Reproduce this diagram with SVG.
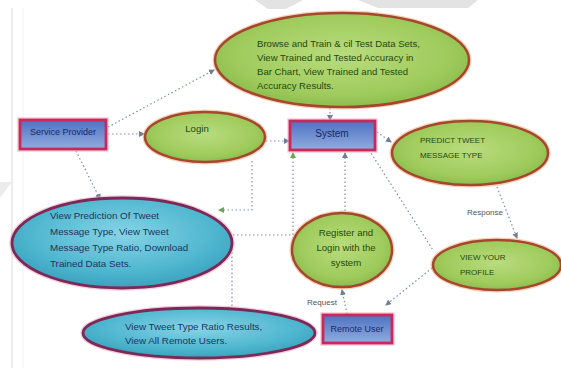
<svg xmlns="http://www.w3.org/2000/svg" width="561" height="369" viewBox="0 0 561 369">
<defs>
<radialGradient id="gGreen" cx="50%" cy="45%" r="60%">
<stop offset="0" stop-color="#b9dc7e"/><stop offset="0.7" stop-color="#9fcb5c"/><stop offset="1" stop-color="#86b84a"/>
</radialGradient>
<radialGradient id="gBlue" cx="50%" cy="40%" r="60%">
<stop offset="0" stop-color="#86d4e6"/><stop offset="0.7" stop-color="#4fb6cf"/><stop offset="1" stop-color="#3ba2bf"/>
</radialGradient>
<linearGradient id="gRect" x1="0" y1="0" x2="0" y2="1">
<stop offset="0" stop-color="#4d72c2"/><stop offset="1" stop-color="#93acdf"/>
</linearGradient>
<marker id="arr" viewBox="0 0 6 6" refX="5" refY="3" markerWidth="5" markerHeight="5" orient="auto">
<path d="M0,0 L6,3 L0,6 z" fill="#6f7f98"/>
</marker>
<marker id="arrG" viewBox="0 0 6 6" refX="5" refY="3" markerWidth="5" markerHeight="5" orient="auto">
<path d="M0,0 L6,3 L0,6 z" fill="#6aa84f"/>
</marker>
</defs>
<style>
.gE{fill:url(#gGreen);stroke:#a5472c;stroke-width:2.5}
.gGlow{fill:none;stroke:#f2b08a;stroke-width:5;opacity:0.6}
.bE{fill:url(#gBlue);stroke:#7b2a55;stroke-width:2.8}
.bGlow{fill:none;stroke:#f0a8c8;stroke-width:5.5;opacity:0.6}
.rc{fill:url(#gRect);stroke:#c8285a;stroke-width:2.8}
.rGlow{fill:none;stroke:#f6a8c0;stroke-width:5.5;opacity:0.6}
.tg{font-family:"Liberation Sans",Arial,sans-serif;font-size:9.6px;fill:#244a0c}
.tb{font-family:"Liberation Sans",Arial,sans-serif;font-size:9.8px;fill:#1a3560}
.tr{font-family:"Liberation Sans",Arial,sans-serif;font-size:9px;fill:#1a2868;text-anchor:middle}
.lbl{font-family:"Liberation Sans",Arial,sans-serif;font-size:8px;fill:#555;text-anchor:middle}
.c{fill:none;stroke:#7f8fa8;stroke-width:1.2;stroke-dasharray:1.5 2.5}
</style>
<rect width="561" height="369" fill="#ffffff"/>
<g id="background">
<polygon points="255,0 303,0 286,9 268,9" fill="#e3e3e3"/>
<polygon points="358,0 478,0 468,8 378,8" fill="#e3e3e3"/>
<polygon points="0,182 12,182 0,198" fill="#ececec"/>
<line x1="12" y1="8" x2="12" y2="368" stroke="#e6e6e6" stroke-width="1.5"/>
<line x1="23" y1="8" x2="23" y2="368" stroke="#f2f2f2" stroke-width="1"/>
</g>
<g id="connectors">
<path class="c" d="M108,127 L214,70" marker-end="url(#arr)"/>
<path class="c" d="M108,134 L144,134" marker-end="url(#arr)"/>
<path class="c" d="M266,141 L289,141" marker-end="url(#arr)"/>
<path class="c" d="M330,108 L330,120" marker-end="url(#arr)"/>
<path class="c" d="M377,132 L391,142" marker-end="url(#arr)"/>
<path class="c" d="M76,151 L100,199" marker-end="url(#arr)"/>
<path class="c" d="M252,161 L252,210 L219,210" marker-end="url(#arrG)"/>
<path class="c" d="M232,310 L232,235 L293,235 L293,153" marker-end="url(#arrG)"/>
<path class="c" d="M345,211 L345,153" marker-end="url(#arr)"/>
<path class="c" d="M369,150 L433,250"/>
<path class="c" d="M497,187 L517,238" marker-end="url(#arr)"/>
<path class="c" d="M432,268 L386,305" marker-end="url(#arr)"/>
<path class="c" d="M347,314 L342,290" marker-end="url(#arr)"/>
<text class="lbl" x="485" y="215">Response</text>
<text class="lbl" x="322" y="305">Request</text>
</g>
<g id="top-ellipse">
<ellipse class="gGlow" cx="342" cy="60" rx="127" ry="47"/>
<ellipse class="gE" cx="342" cy="60" rx="127" ry="47"/>
<text class="tg" x="257" y="47">Browse and Train &amp; cil Test Data Sets,</text>
<text class="tg" x="257" y="61">View Trained and Tested Accuracy in</text>
<text class="tg" x="257" y="75">Bar Chart,  View Trained and Tested</text>
<text class="tg" x="257" y="89">Accuracy Results.</text>
</g>
<g id="service-provider">
<rect class="rGlow" x="20" y="120" width="86" height="29"/>
<rect class="rc" x="20" y="120" width="86" height="29"/>
<text class="tr" x="63" y="135">Service Provider</text>
</g>
<g id="login">
<ellipse class="gGlow" cx="205" cy="137" rx="60" ry="25"/>
<ellipse class="gE" cx="205" cy="137" rx="60" ry="25"/>
<text class="tg" x="197" y="132" text-anchor="middle">Login</text>
</g>
<g id="system">
<rect class="rGlow" x="290" y="121" width="85" height="29"/>
<rect class="rc" x="290" y="121" width="85" height="29"/>
<text class="tr" x="332" y="137" style="font-size:10px">System</text>
</g>
<g id="predict">
<ellipse class="gGlow" cx="470" cy="153" rx="78" ry="32"/>
<ellipse class="gE" cx="470" cy="153" rx="78" ry="32"/>
<text class="tg" x="420" y="143" style="font-size:8px">PREDICT TWEET</text>
<text class="tg" x="420" y="158" style="font-size:8px">MESSAGE TYPE</text>
</g>
<g id="view-prediction">
<ellipse class="bGlow" cx="122" cy="243" rx="110" ry="45"/>
<ellipse class="bE" cx="122" cy="243" rx="110" ry="45"/>
<text class="tb" x="50" y="219">View Prediction Of Tweet</text>
<text class="tb" x="50" y="235">Message Type,  View Tweet</text>
<text class="tb" x="50" y="251">Message Type Ratio,  Download</text>
<text class="tb" x="50" y="267">Trained Data Sets.</text>
</g>
<g id="register">
<ellipse class="gGlow" cx="342" cy="250" rx="50" ry="37"/>
<ellipse class="gE" cx="342" cy="250" rx="50" ry="37"/>
<text class="tg" x="346" y="236" text-anchor="middle">Register and</text>
<text class="tg" x="346" y="251" text-anchor="middle">Login with the</text>
<text class="tg" x="346" y="266" text-anchor="middle">system</text>
</g>
<g id="view-profile">
<ellipse class="gGlow" cx="497" cy="265" rx="64" ry="25"/>
<ellipse class="gE" cx="497" cy="265" rx="64" ry="25"/>
<text class="tg" x="460" y="260" style="font-size:8px">VIEW YOUR</text>
<text class="tg" x="460" y="275" style="font-size:8px">PROFILE</text>
</g>
<g id="view-ratio">
<ellipse class="bGlow" cx="199" cy="333" rx="116" ry="25"/>
<ellipse class="bE" cx="199" cy="333" rx="116" ry="25"/>
<text class="tb" x="125" y="330">View Tweet Type Ratio Results,</text>
<text class="tb" x="125" y="344">View All Remote Users.</text>
</g>
<g id="remote-user">
<rect class="rGlow" x="323" y="315" width="69" height="28"/>
<rect class="rc" x="323" y="315" width="69" height="28"/>
<text class="tr" x="357" y="332">Remote User</text>
</g>
</svg>
